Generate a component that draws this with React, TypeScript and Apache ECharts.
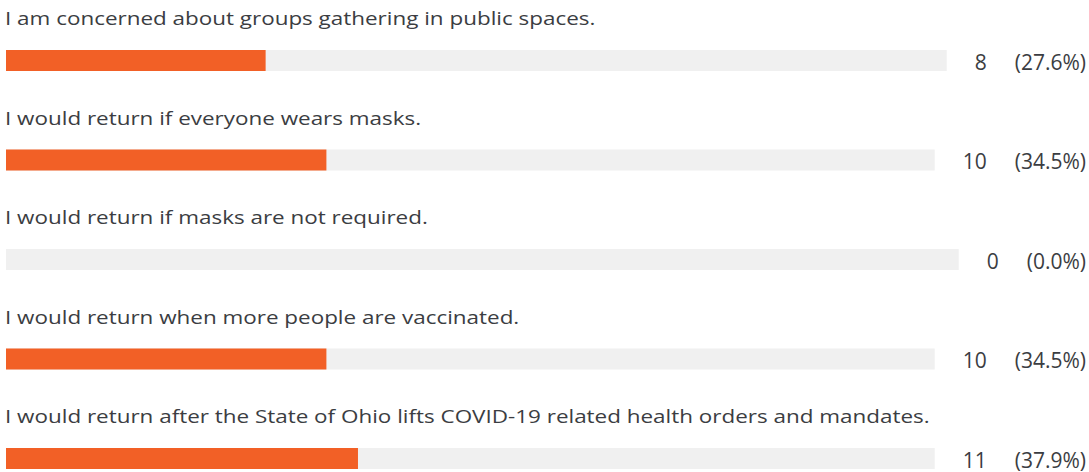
import React, { useEffect, useRef } from "react";
import * as echarts from "echarts";

const questions = [
  "I am concerned about groups gathering in public spaces.",
  "I would return if everyone wears masks.",
  "I would return if masks are not required.",
  "I would return when more people are vaccinated.",
  "I would return after the State of Ohio lifts COVID-19 related health orders and mandates.",
];
const counts = [8, 10, 0, 10, 11];
const percents = [27.6, 34.5, 0.0, 34.5, 37.9];

const W = 1089;
const H = 472;
const FONT = "Open Sans";
const LABEL_SIZE = 19;
const VALUE_SIZE = 21;
const TEXT_COLOR = "#3b3d42";
const ORANGE = "#f26026";
const TRACK = "#f0f0f0";
const ROW_TOP = 50;
const ROW_STEP = 99.5;
const BAR_H = 21;
const GAP = 28;
const RIGHT_EDGE = 1086;
// overall width that the five question texts take together in the reference
const TOTAL_LABEL_WIDTH = 2870;

function measure(text: string, size: number): number {
  const c = document.createElement("canvas");
  const ctx = c.getContext("2d");
  if (!ctx) return text.length * size * 0.55;
  ctx.font = `${size}px "${FONT}"`;
  return ctx.measureText(text).width;
}

export default function App() {
  const ref = useRef<HTMLDivElement>(null);
  useEffect(() => {
    if (!ref.current) return;
    const chart = echarts.init(ref.current, undefined, { renderer: "svg" });
    const grids: any[] = [];
    const xAxes: any[] = [];
    const yAxes: any[] = [];
    const series: any[] = [];
    const graphics: any[] = [];
    const natural = questions.reduce((s, q) => s + measure(q, LABEL_SIZE), 0);
    const stretch = TOTAL_LABEL_WIDTH / natural;
    questions.forEach((q, i) => {
      const top = ROW_TOP + ROW_STEP * i;
      const numText = String(counts[i]);
      const pctText = `(${percents[i].toFixed(1)}%)`;
      const trackEnd =
        RIGHT_EDGE - measure(pctText, VALUE_SIZE) - GAP - measure(numText, VALUE_SIZE) - GAP;
      grids.push({ left: 6, top, height: BAR_H, right: W - trackEnd, containLabel: false });
      xAxes.push({ type: "value", gridIndex: i, min: 0, max: 100, show: false });
      yAxes.push({ type: "category", gridIndex: i, data: [q], show: false });
      series.push({
        type: "bar",
        xAxisIndex: i,
        yAxisIndex: i,
        data: [100],
        barWidth: BAR_H,
        silent: true,
        itemStyle: { color: TRACK },
        label: {
          show: true,
          position: "right",
          distance: GAP,
          offset: [0, 1],
          lineHeight: 20,
          formatter: () => `{n|${numText}}{s| }{p|${pctText}}`,
          rich: {
            n: { fontFamily: FONT, fontSize: VALUE_SIZE, color: TEXT_COLOR, lineHeight: 20 },
            s: { width: GAP, fontSize: VALUE_SIZE, lineHeight: 20 },
            p: { fontFamily: FONT, fontSize: VALUE_SIZE, color: TEXT_COLOR, lineHeight: 20 },
          },
        },
      });
      series.push({
        type: "bar",
        xAxisIndex: i,
        yAxisIndex: i,
        data: [percents[i]],
        barWidth: BAR_H,
        barGap: "-100%",
        silent: true,
        itemStyle: { color: ORANGE },
      });
      graphics.push({
        type: "text",
        x: 5,
        y: top - 32,
        scaleX: stretch,
        style: {
          text: q,
          fontFamily: FONT,
          fontSize: LABEL_SIZE,
          fill: TEXT_COLOR,
          verticalAlign: "middle",
          align: "left",
        },
      });
    });
    chart.setOption({
      animation: false,
      backgroundColor: "#ffffff",
      grid: grids,
      xAxis: xAxes,
      yAxis: yAxes,
      series,
      graphic: graphics,
    });
    return () => chart.dispose();
  }, []);
  return (
    <div
      ref={ref}
      style={{ position: "fixed", left: 0, top: 0, width: W, height: H }}
    />
  );
}
